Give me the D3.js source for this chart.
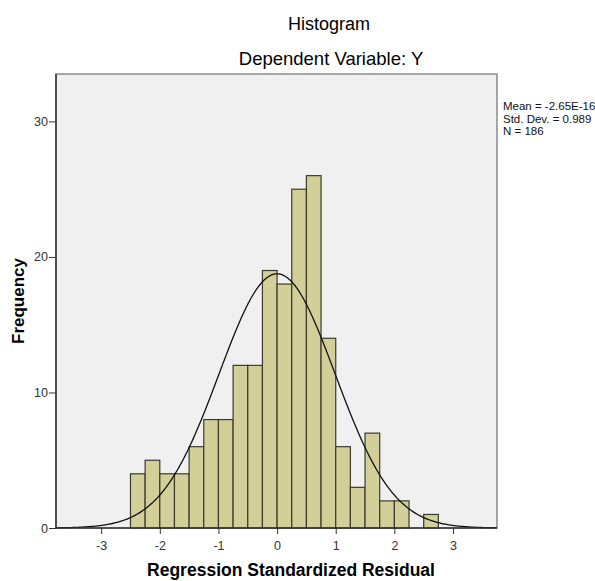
<!DOCTYPE html>
<html>
<head>
<meta charset="utf-8">
<script src="https://cdn.jsdelivr.net/npm/d3@7"></script>
<style>
    body { margin: 0; background: #fff; }
    svg { font-family: "Liberation Sans", Arial, sans-serif; }
    .axis path, .axis line { stroke: #333; }
    .axis text { fill: #333; font-size: 12.5px; }
</style>
</head>
<body>
<div id="chart"></div>
<script>
// bins of width 0.25 starting at -2.5
var binStarts = [-2.5, -2.25, -2, -1.75, -1.5, -1.25, -1, -0.75, -0.5, -0.25,
    0, 0.25, 0.5, 0.75, 1, 1.25, 1.5, 1.75, 2, 2.25, 2.5];
var counts = [4, 5, 4, 4, 6, 8, 8, 12, 12, 19, 18, 25, 26, 14, 6, 3, 7, 2, 2, 0, 1];
var binWidth = 0.25;
var xTicks = [-3, -2, -1, 0, 1, 2, 3];
var yTicks = [0, 10, 20, 30];
var statsLines = ['Mean = -2.65E-16', 'Std. Dev. = 0.989', 'N = 186'];
var mean = -2.65e-16, sd = 0.989, n = 186;

var width = 595,
    height = 581,
    margin = { left: 56, top: 74, right: 98, bottom: 53 };

var chartWidth = width - margin.left - margin.right;
var chartHeight = height - margin.top - margin.bottom;

var xScale = d3.scaleLinear().domain([-3.77, 3.75]).range([0, chartWidth]);
var yScale = d3.scaleLinear().domain([0, 33.5]).range([chartHeight, 0]);

var svg = d3.select('#chart').append('svg')
    .attr('width', width)
    .attr('height', height);

// titles
svg.append('text')
    .attr('x', 329).attr('y', 30)
    .attr('text-anchor', 'middle')
    .style('font-size', '18px')
    .text('Histogram');

svg.append('text')
    .attr('x', 331).attr('y', 65)
    .attr('text-anchor', 'middle')
    .style('font-size', '18.5px')
    .text('Dependent Variable: Y');

var g = svg.append('g')
    .attr('transform', 'translate(' + margin.left + ',' + margin.top + ')');

// plot background
g.append('rect')
    .attr('width', chartWidth)
    .attr('height', chartHeight)
    .attr('fill', '#f0f0f0')
    .attr('stroke', '#8a8a8a')
    .attr('stroke-width', 1.5);

// bars
g.selectAll('rect.bar')
    .data(counts.map(function (c, i) { return { x0: binStarts[i], count: c }; })
        .filter(function (d) { return d.count > 0; }))
    .enter().append('rect')
    .attr('class', 'bar')
    .attr('x', function (d) { return xScale(d.x0); })
    .attr('y', function (d) { return yScale(d.count); })
    .attr('width', function (d) { return xScale(d.x0 + binWidth) - xScale(d.x0); })
    .attr('height', function (d) { return yScale(0) - yScale(d.count); })
    .attr('fill', '#d3cf98')
    .attr('stroke', '#3b3b30')
    .attr('stroke-width', 1.2);

// normal curve
var curveX = d3.range(-3.77, 3.76, 0.02);
var curve = d3.line()
    .x(function (d) { return xScale(d); })
    .y(function (d) {
        var z = (d - mean) / sd;
        return yScale(n * binWidth / (sd * Math.sqrt(2 * Math.PI)) * Math.exp(-0.5 * z * z));
    });

g.append('path')
    .datum(curveX)
    .attr('d', curve)
    .attr('fill', 'none')
    .attr('stroke', '#111')
    .attr('stroke-width', 1.3);

// axes
var fmt = function (d) { return String(d); };
var xAxis = d3.axisBottom(xScale).tickValues(xTicks).tickFormat(fmt).tickSize(6).tickSizeOuter(0);
var yAxis = d3.axisLeft(yScale).tickValues(yTicks).tickFormat(fmt).tickSize(7).tickSizeOuter(0);

var gx = g.append('g')
    .attr('class', 'axis x')
    .attr('transform', 'translate(0,' + chartHeight + ')')
    .call(xAxis);
gx.select('.domain').attr('d', 'M0,0H' + chartWidth).attr('stroke', '#222').attr('stroke-width', 1.5);
gx.selectAll('text').attr('dy', '1.0em');

var gy = g.append('g')
    .attr('class', 'axis y')
    .call(yAxis);
gy.select('.domain').attr('d', 'M0,0V' + chartHeight).attr('stroke', '#555').attr('stroke-width', 1.5);
gy.selectAll('text').attr('x', -8);

// axis titles
svg.append('text')
    .attr('x', 291).attr('y', 576)
    .attr('text-anchor', 'middle')
    .style('font-size', '17.5px')
    .style('font-weight', 'bold')
    .text('Regression Standardized Residual');

svg.append('text')
    .attr('transform', 'translate(24,301) rotate(-90)')
    .attr('text-anchor', 'middle')
    .style('font-size', '17px')
    .style('font-weight', 'bold')
    .text('Frequency');

// stats box
svg.append('g')
    .selectAll('text')
    .data(statsLines)
    .enter().append('text')
    .attr('x', 503)
    .attr('y', function (d, i) { return 110 + i * 12.5; })
    .style('font-size', '11.5px')
    .attr('fill', '#111')
    .text(function (d) { return d; });
</script>
</body>
</html>
